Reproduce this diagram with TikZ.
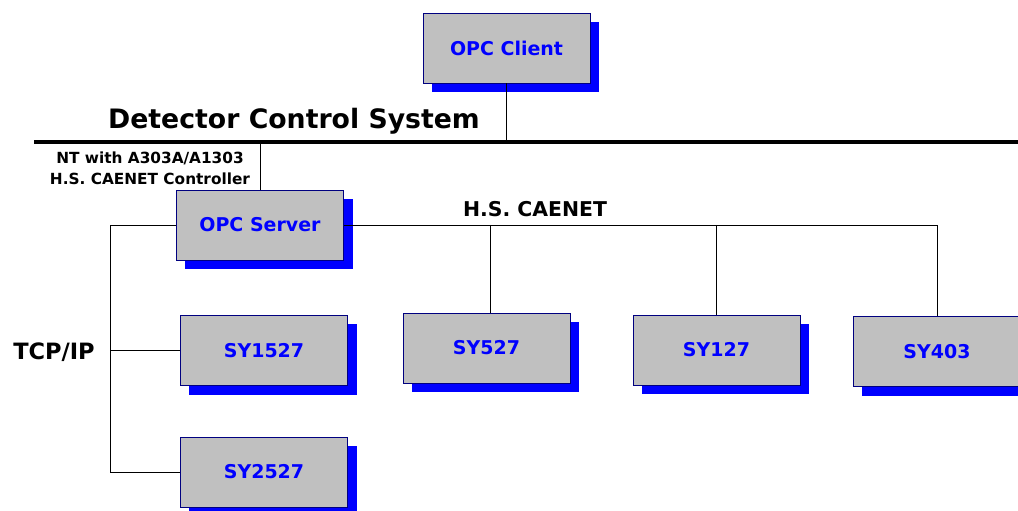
\documentclass[tikz,border=0pt]{standalone}
\usepackage{fontspec}
\setmainfont{DejaVu Sans}
\usetikzlibrary{shadows}

\definecolor{boxgray}{RGB}{192,192,192}
\definecolor{boxline}{RGB}{0,0,128}

\begin{document}
\begin{tikzpicture}[x=0.025cm, y=-0.025cm,
        unit/.style={draw=boxline, fill=boxgray, minimum width=4.175cm, minimum height=1.75cm,
            text=blue, font=\fontsize{13.5}{16}\selectfont\bfseries,
            drop shadow={shadow xshift=0.225cm, shadow yshift=-0.225cm, fill=blue, opacity=1}},
        lbl/.style={font=\bfseries, inner sep=0pt}]
        \useasboundingbox (0,0) rectangle (1018,511);

        \node[unit] (client) at (506.5,48) {OPC Client};
        \node[unit] (server) at (260,225) {OPC Server};
        \node[unit] (sy1527) at (264,350.5) {SY1527};
        \node[unit] (sy2527) at (264,472) {SY2527};
        \node[unit] (sy527) at (486.5,348) {SY527};
        \node[unit] (sy127) at (716.5,350) {SY127};
        \node[unit] (sy403) at (937,351.5) {SY403};

        \coordinate (busL) at (34,142);
        \coordinate (busR) at (1018,142);
        \coordinate (tcp) at (110,0);
        \draw[line width=2.2pt] (busL) -- (busR);

        \node[lbl, font=\fontsize{19}{22}\selectfont\bfseries] (dcs) at (294,121) {Detector Control System};
        \node[lbl, align=center, font=\fontsize{10.9}{15}\selectfont\bfseries] (nt) at (150,168) {NT with A303A/A1303\\H.S. CAENET Controller};
        \node[lbl, font=\fontsize{14.5}{17}\selectfont\bfseries] (hs) at (535,209) {H.S. CAENET};
        \node[lbl, font=\fontsize{16}{19}\selectfont\bfseries] (tcpip) at (54,352) {TCP/IP};

        \draw (client.south) -- (client.south |- busR);
        \draw (server.north |- busL) -- (server.north);

        \draw (server.west) -| (tcp |- sy2527.west) -- (sy2527.west);
        \draw (tcp |- sy1527.west) -- (sy1527.west);

        \draw (server.east) -| (sy403.north);
        \draw ([xshift=0.09cm]sy527.north |- server.east) -- ([xshift=0.09cm]sy527.north);
        \draw (sy127.north |- server.east) -- (sy127.north);
\end{tikzpicture}
\end{document}
